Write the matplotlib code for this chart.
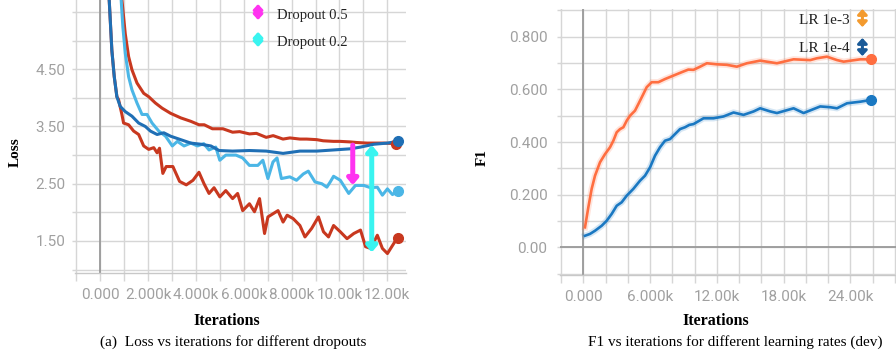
import matplotlib
matplotlib.use("Agg")
import matplotlib.pyplot as plt
from matplotlib.ticker import MultipleLocator, FixedLocator

# ── data: loss vs iterations (left) ───────────────────────────────────────────
d02_dev_x = [820, 1050, 1190, 1330, 1540, 1820, 2030, 2310, 2590, 2945, 3370,
             3790, 4130, 4350, 4690, 5130, 5535, 5830, 6240, 6530, 6940, 7230,
             7640, 7930, 8350, 8630, 9050, 9320, 9750, 10020, 10460, 10720,
             11160, 11420, 11860, 12370]
d02_dev_y = [6.10, 5.12, 4.72, 4.49, 4.26, 4.08, 4.02, 3.91, 3.82, 3.73, 3.65,
             3.59, 3.53, 3.53, 3.46, 3.46, 3.40, 3.41, 3.37, 3.38, 3.31, 3.34,
             3.28, 3.30, 3.28, 3.28, 3.27, 3.25, 3.24, 3.24, 3.23, 3.22,
             3.21, 3.21, 3.21, 3.20]

d02_train_x = [330, 490, 590, 700, 770, 910, 980, 1190, 1400, 1610, 1820, 2030,
               2240, 2380, 2480, 2620, 2760, 3040, 3320, 3600, 3880, 4130, 4340,
               4550, 4760, 5000, 5250, 5535, 5745, 5956, 6238, 6449, 6660, 6870,
               7011, 7433, 7644, 7813, 8066, 8347, 8558, 8839, 9121, 9332, 9543,
               9754, 10035, 10316, 10598, 10879, 11090, 11301, 11582, 11793,
               12004, 12215, 12426]
d02_train_y = [6.10, 4.83, 4.37, 4.02, 3.97, 3.71, 3.56, 3.53, 3.42, 3.36, 3.16,
               3.10, 3.13, 3.04, 3.12, 2.68, 2.80, 2.80, 2.54, 2.48, 2.56, 2.70,
               2.50, 2.33, 2.43, 2.27, 2.38, 2.24, 2.33, 2.03, 2.15, 2.01, 2.24,
               1.63, 1.92, 2.03, 1.83, 1.95, 1.89, 1.77, 1.57, 1.72, 1.92, 1.66,
               1.57, 1.77, 1.66, 1.54, 1.63, 1.69, 1.40, 1.37, 1.60, 1.37, 1.28,
               1.42, 1.56]

d05_dev_x = [330, 490, 590, 700, 840, 1050, 1330, 1610, 1890, 2100, 2380, 2660,
             2945, 3366, 3787, 4207, 4628, 4972, 5535, 6238, 6940, 7644, 8347,
             9050, 9754, 10457, 10879, 11441, 12004, 12426]
d05_dev_y = [6.10, 4.83, 4.37, 4.02, 3.85, 3.76, 3.68, 3.56, 3.50, 3.42, 3.36,
             3.39, 3.33, 3.27, 3.21, 3.19, 3.16, 3.08, 3.07, 3.08, 3.07, 3.03,
             3.07, 3.07, 3.09, 3.11, 3.14, 3.19, 3.21, 3.24]

d05_train_x = [820, 950, 1050, 1190, 1330, 1540, 1750, 1960, 2170, 2450, 2735,
               3015, 3226, 3506, 3787, 4067, 4330, 4550, 4831, 5000, 5253, 5675,
               5956, 6238, 6589, 6800, 7011, 7222, 7391, 7574, 7925, 8206, 8488,
               8699, 8980, 9262, 9473, 9613, 9754, 10035, 10387, 10668, 11020,
               11301, 11582, 11793, 12004, 12215, 12426]
d05_train_y = [6.10, 5.24, 4.78, 4.37, 4.14, 3.91, 3.71, 3.71, 3.56, 3.42, 3.33,
               3.16, 3.24, 3.16, 3.21, 3.16, 3.20, 3.09, 3.14, 2.91, 3.00, 3.00,
               2.95, 2.82, 2.82, 2.91, 2.59, 2.88, 2.95, 2.59, 2.62, 2.56, 2.67,
               2.72, 2.53, 2.50, 2.44, 2.53, 2.63, 2.56, 2.33, 2.47, 2.47,
               2.43, 2.44, 2.30, 2.41, 2.31, 2.38]

# gap annotations (x, top, bottom)
gap05 = (10555, 3.175, 2.476)
gap02 = (11348, 3.175, 1.30)

# ── data: F1 vs iterations (right) ────────────────────────────────────────────
lr3_x = [150, 300, 450, 750, 1050, 1500, 1950, 2400, 2700, 3000, 3300, 3600,
         3900, 4200, 4645, 4945, 5393, 5693, 6143, 6742, 7341, 8090, 8839,
         9438, 9900, 10500, 11100, 12000, 12900, 13800, 14700, 15895, 17397,
         18896, 20395, 21000, 21890, 22800, 23395, 24890, 25880]
lr3_y = [0.076, 0.114, 0.152, 0.222, 0.272, 0.323, 0.354, 0.380, 0.405, 0.437,
         0.449, 0.456, 0.481, 0.500, 0.519, 0.544, 0.582, 0.608, 0.627, 0.627,
         0.639, 0.652, 0.665, 0.675, 0.674, 0.686, 0.699, 0.695, 0.693, 0.686,
         0.699, 0.709, 0.699, 0.714, 0.711, 0.718, 0.724, 0.711, 0.705, 0.714,
         0.714]

lr4_x = [150, 600, 1050, 1650, 2100, 2550, 3000, 3445, 3895, 4494, 5093, 5543,
         6000, 6442, 6891, 7341, 7790, 8240, 8689, 9139, 9528, 9900, 10800,
         11700, 12600, 13500, 14400, 15300, 15895, 16800, 17397, 18896, 19795,
         21290, 22200, 22795, 23694, 24890, 25880]
lr4_y = [0.044, 0.051, 0.063, 0.082, 0.101, 0.127, 0.158, 0.171, 0.196, 0.222,
         0.253, 0.272, 0.304, 0.348, 0.380, 0.405, 0.411, 0.430, 0.449, 0.456,
         0.465, 0.468, 0.490, 0.490, 0.497, 0.512, 0.503, 0.516, 0.528, 0.516,
         0.510, 0.528, 0.510, 0.535, 0.532, 0.528, 0.547, 0.553, 0.560]

left_xticks = [0, 2000, 4000, 6000, 8000, 10000, 12000]
left_xlabels = ["0.000", "2.000k", "4.000k", "6.000k", "8.000k", "10.00k", "12.00k"]
left_yticks = [1.5, 2.5, 3.5, 4.5]
left_ylabels = ["1.50", "2.50", "3.50", "4.50"]
right_xticks = [0, 6000, 12000, 18000, 24000]
right_xlabels = ["0.000", "6.000k", "12.00k", "18.00k", "24.00k"]
right_yticks = [0.0, 0.2, 0.4, 0.6, 0.8]
right_ylabels = ["0.00", "0.200", "0.400", "0.600", "0.800"]

# ── palette ───────────────────────────────────────────────────────────────────
RED = "#c8381f"
DBLUE = "#1f6fb5"
LBLUE = "#4bb6e6"
ORANGE = "#ff6e40"
BLUE = "#1a78c2"
MAGENTA = "#ff33f0"
CYAN = "#3af4f0"
GRID = "#d6d6d6"
ZERO = "#9a9a9a"
TICK = "#a0a0a0"
SERIF = "Liberation Serif"

fig = plt.figure(figsize=(8.96, 3.54), dpi=100, facecolor="white")


def style_ax(ax, ypad):
    for side in ["top", "right", "left"]:
        ax.spines[side].set_visible(False)
    ax.spines["bottom"].set_color("#c8c8c8")
    ax.spines["bottom"].set_linewidth(1.0)
    ax.grid(which="both", color=GRID, lw=1.0)
    ax.set_axisbelow(True)
    ax.tick_params(axis="x", which="both", length=6, color=GRID, width=1.0,
                   labelcolor=TICK, labelsize=11, pad=5)
    ax.tick_params(axis="y", which="both", length=2, color=GRID, width=1.0,
                   labelcolor=TICK, labelsize=11, pad=ypad)
    for lab in ax.get_xticklabels() + ax.get_yticklabels():
        lab.set_fontfamily("Roboto")


def arrow(ax, x0, y0, x1, y1, c, lw, hw, hl, style="<|-|>", coords="data"):
    ax.annotate("", xy=(x1, y1), xytext=(x0, y0), xycoords=coords,
                textcoords=coords, annotation_clip=False,
                arrowprops=dict(arrowstyle=f"{style},head_width={hw},head_length={hl}",
                                color=c, lw=lw, shrinkA=0, shrinkB=0,
                                mutation_scale=10), zorder=6)


# ── left panel ────────────────────────────────────────────────────────────────
ax1 = fig.add_axes([75 / 896, 81 / 354, 331 / 896, 273 / 354])
ax1.set_xlim(-1050, 12780)
ax1.set_ylim(0.94, 5.71)
ax1.xaxis.set_major_locator(FixedLocator(left_xticks))
ax1.xaxis.set_minor_locator(MultipleLocator(1000))
ax1.yaxis.set_major_locator(FixedLocator(left_yticks))
ax1.yaxis.set_minor_locator(MultipleLocator(0.5))
ax1.set_xticklabels(left_xlabels)
ax1.set_yticklabels(left_ylabels)
style_ax(ax1, 5)
ax1.axvline(0, color=ZERO, lw=1.3, zorder=1)

ax1.plot(d02_dev_x, d02_dev_y, color=RED, lw=2.2, zorder=3)
ax1.plot(d02_train_x, d02_train_y, color=RED, lw=2.2, zorder=3)
ax1.plot(d05_train_x, d05_train_y, color=LBLUE, lw=2.2, zorder=3)
ax1.plot(d05_dev_x, d05_dev_y, color=DBLUE, lw=2.2, zorder=4)
for xs, ys, c in [(d02_dev_x, d02_dev_y, RED), (d02_train_x, d02_train_y, RED),
                  (d05_train_x, d05_train_y, LBLUE), (d05_dev_x, d05_dev_y, DBLUE)]:
    ax1.plot(xs[-1], ys[-1], "o", color=c, ms=7, zorder=5)

arrow(ax1, gap05[0], gap05[1], gap05[0], gap05[2], MAGENTA, 3.6, 0.3, 0.35, "-|>")
arrow(ax1, gap02[0], gap02[1], gap02[0], gap02[2], CYAN, 3.6, 0.3, 0.35, "<|-|>")

# legend glyphs
for yt, yb, ytxt, c, lab in [(0.985, 0.927, 0.945, MAGENTA, "Dropout 0.5"),
                              (0.883, 0.828, 0.846, CYAN, "Dropout 0.2")]:
    arrow(ax1, 0.553, yt, 0.553, yb, c, 2.2, 0.28, 0.3, coords="axes fraction")
    ax1.text(0.610, ytxt, lab, transform=ax1.transAxes, family=SERIF,
             fontsize=10.5, color="#222222", va="center", ha="left")

# ── right panel ───────────────────────────────────────────────────────────────
ax2 = fig.add_axes([560 / 896, 79 / 354, 336 / 896, 266 / 354])
ax2.set_xlim(-2096, 28100)
ax2.set_ylim(-0.105, 0.905)
ax2.xaxis.set_major_locator(FixedLocator(right_xticks))
ax2.xaxis.set_minor_locator(MultipleLocator(2000))
ax2.yaxis.set_major_locator(FixedLocator(right_yticks))
ax2.yaxis.set_minor_locator(MultipleLocator(0.1))
ax2.set_xticklabels(right_xlabels)
ax2.set_yticklabels(right_ylabels)
style_ax(ax2, 7)
ax2.axvline(0, color=ZERO, lw=1.3, zorder=1)
ax2.axhline(0, color=ZERO, lw=1.3, zorder=1)

for xs, ys, c in [(lr3_x, lr3_y, ORANGE), (lr4_x, lr4_y, BLUE)]:
    ax2.plot(xs, ys, color=c, lw=4.5, alpha=0.18, zorder=2)
    ax2.plot(xs, ys, color=c, lw=1.9, zorder=3)
    ax2.plot(xs[-1], ys[-1], "o", color=c, ms=7, zorder=5)

for yt, yb, ytxt, c, lab in [(1.000, 0.932, 0.955, "#f39a2e", "LR 1e-3"),
                              (0.891, 0.823, 0.853, "#1a5a98", "LR 1e-4")]:
    arrow(ax2, 0.900, yt, 0.900, yb, c, 2.2, 0.28, 0.3, coords="axes fraction")
    ax2.text(0.862, ytxt, lab, transform=ax2.transAxes, family=SERIF,
             fontsize=11, color="#222222", va="center", ha="right")

# ── labels and captions ───────────────────────────────────────────────────────
fig.text(15 / 896, 1 - 152 / 354, "Loss", rotation=90, family=SERIF,
         fontweight="bold", fontsize=11, ha="center", va="center")
fig.text(227 / 896, 1 - 321 / 354, "Iterations", family=SERIF,
         fontweight="bold", fontsize=11.5, ha="center", va="center")
fig.text(233 / 896, 1 - 342 / 354, "(a)  Loss vs iterations for different dropouts",
         family=SERIF, fontsize=11, ha="center", va="center")
fig.text(482 / 896, 1 - 158 / 354, "F1", rotation=90, family=SERIF,
         fontweight="bold", fontsize=11, ha="center", va="center")
fig.text(716 / 896, 1 - 321 / 354, "Iterations", family=SERIF,
         fontweight="bold", fontsize=11.5, ha="center", va="center")
fig.text(735 / 896, 1 - 342 / 354, "F1 vs iterations for different learning rates (dev)",
         family=SERIF, fontsize=11, ha="center", va="center")

fig.savefig("out.png", dpi=100, facecolor="white")
